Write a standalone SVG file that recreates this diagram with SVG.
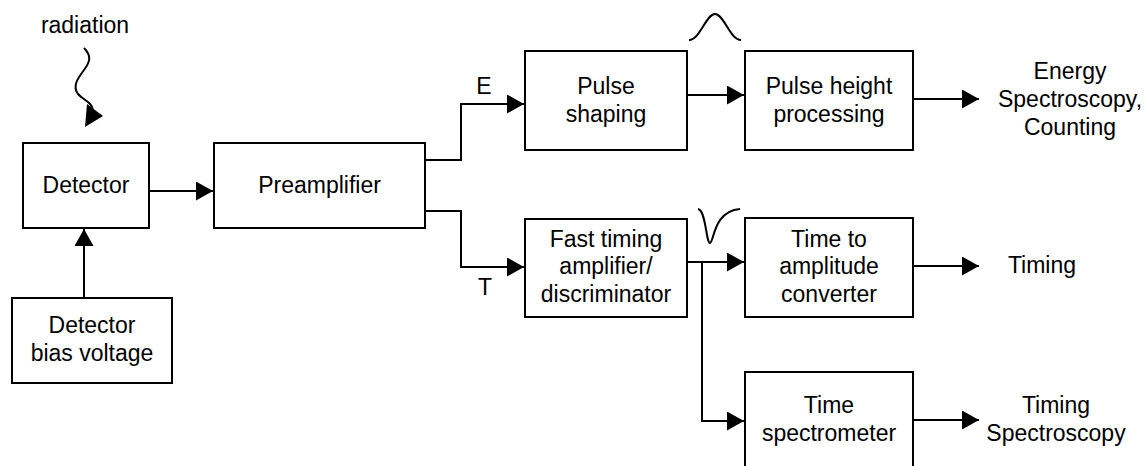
<svg xmlns="http://www.w3.org/2000/svg" width="1145" height="466" viewBox="0 0 1145 466">
<style>
.box{fill:#fff;stroke:#000;stroke-width:2}
.ln{fill:none;stroke:#000;stroke-width:2}
.ar{marker-end:url(#ah)}
text{font-family:"Liberation Sans",Arial,sans-serif;font-size:23px;fill:#000;text-anchor:middle}
</style>
<defs>
<marker id="ah" markerUnits="userSpaceOnUse" markerWidth="18" markerHeight="19" refX="17" refY="9.5" orient="auto">
<path d="M0,0 L17,9.5 L0,19 z" fill="#000"/>
</marker>
</defs>
<rect width="1145" height="466" fill="#fff"/>
<g id="connectors">
<path class="ln ar" d="M149,191 H213"/>
<path class="ln ar" d="M84,298 V229"/>
<path class="ln ar" d="M425,160 H461 V104 H524"/>
<path class="ln ar" d="M425,211 H461 V267 H524"/>
<path class="ln ar" d="M687,95 H744"/>
<path class="ln ar" d="M913,99 H979"/>
<path class="ln ar" d="M687,262 H744"/>
<path class="ln ar" d="M702,262 V421 H744"/>
<path class="ln ar" d="M913,266 H979"/>
<path class="ln ar" d="M913,420 H979"/>
<path class="ln" d="M84,48 C92,56 90,62 84,70 C78,78 72,86 78,94 C83,100 92,102 93,110"/>
<polygon points="87,104 103,116 85,127" fill="#000"/>
<path class="ln" d="M689,40 C700,40 706,14 715,14 C724,14 730,40 741,40"/>
<path class="ln" d="M698,209 C706,210 706,243 710,243 C714,243 713,211 740,209"/>
</g>
<g id="radiation"><text x="85" y="33">radiation</text></g>
<g id="detector"><rect class="box" x="23" y="143" width="126" height="85"/><text x="86" y="193">Detector</text></g>
<g id="bias"><rect class="box" x="12" y="298" width="160" height="85"/><text x="92" y="333">Detector</text><text x="92" y="361">bias voltage</text></g>
<g id="preamp"><rect class="box" x="214" y="143" width="211" height="85"/><text x="319.5" y="193">Preamplifier</text></g>
<g id="labelE"><text x="484" y="94">E</text></g>
<g id="labelT"><text x="485" y="295">T</text></g>
<g id="pulseshaping"><rect class="box" x="525" y="51" width="162" height="99"/><text x="606" y="94">Pulse</text><text x="606" y="122">shaping</text></g>
<g id="fasttiming"><rect class="box" x="525" y="219" width="162" height="98"/><text x="606" y="247">Fast timing</text><text x="606" y="274">amplifier/</text><text x="606" y="302">discriminator</text></g>
<g id="pulseheight"><rect class="box" x="745" y="51" width="168" height="99"/><text x="829" y="94">Pulse height</text><text x="829" y="122">processing</text></g>
<g id="tac"><rect class="box" x="745" y="218" width="168" height="99"/><text x="829" y="247">Time to</text><text x="829" y="274">amplitude</text><text x="829" y="302">converter</text></g>
<g id="timespec"><rect class="box" x="745" y="372" width="168" height="110"/><text x="829" y="413">Time</text><text x="829" y="441">spectrometer</text></g>
<g id="out-energy"><text x="1070" y="79">Energy</text><text x="1070" y="107">Spectroscopy,</text><text x="1070" y="135">Counting</text></g>
<g id="out-timing"><text x="1042" y="273">Timing</text></g>
<g id="out-timingspec"><text x="1056" y="413">Timing</text><text x="1056" y="441">Spectroscopy</text></g>
</svg>
